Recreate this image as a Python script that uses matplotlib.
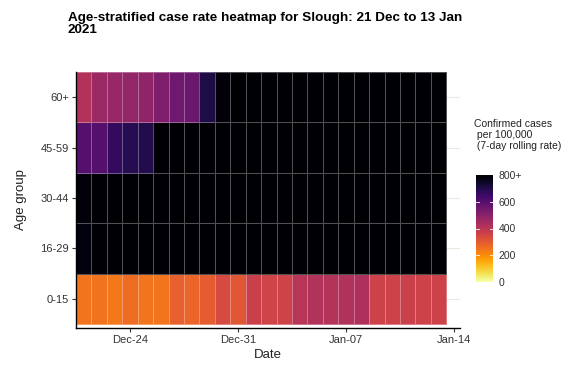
import numpy as np
import matplotlib
matplotlib.use("Agg")
import matplotlib.pyplot as plt
import matplotlib.dates as mdates
import datetime as dt

plt.rcParams['font.family'] = ['Liberation Sans', 'DejaVu Sans']

# ---- data ----
start_date = "2020-12-21"
n_days = 24
age_groups = ["0-15", "16-29", "30-44", "45-59", "60+"]
rate_0_15 = [245, 248, 238, 262, 246, 246, 285, 278, 295, 340, 308, 368,
             356, 358, 408, 420, 415, 420, 425, 362, 362, 368, 362, 362]
rate_16_29 = [780] + [800] * 23
rate_30_44 = [785] + [800] * 23
rate_45_59 = [600, 600, 664, 688, 696] + [800] * 19
rate_60p = [416, 464, 472, 480, 488, 520, 552, 560, 704, 785] + [800] * 14
cbar_ticks = [0, 200, 400, 600, 800]
cbar_labels = ["0", "200", "400", "600", "800+"]
xtick_dates = ["2020-12-24", "2020-12-31", "2021-01-07", "2021-01-14"]
xtick_labels = ["Dec-24", "Dec-31", "Jan-07", "Jan-14"]

values = np.array([rate_0_15, rate_16_29, rate_30_44, rate_45_59, rate_60p], dtype=float)

d0 = mdates.date2num(dt.datetime.fromisoformat(start_date))
x_edges = d0 - 0.5 + np.arange(n_days + 1)
y_edges = np.arange(len(age_groups) + 1) - 0.5

fig = plt.figure(figsize=(5.81, 3.72), dpi=100)
ax = fig.add_axes([76/581, 1-328/372, (460-76)/581, (328-72)/372])

# gridlines at category centres
for i in range(len(age_groups)):
    ax.axhline(i, color='#e9e9df', lw=0.8, zorder=0)

mesh = ax.pcolormesh(x_edges, y_edges, values, cmap='inferno_r', vmin=0, vmax=800,
                     edgecolors=(1, 1, 1, 0.32), linewidth=0.55, zorder=1)

ax.set_xlim(d0 - 0.5, d0 - 0.5 + 24.89)
ax.set_ylim(-0.58, len(age_groups) - 0.5)
ax.set_yticks(range(len(age_groups)))
ax.set_yticklabels(age_groups)
ax.set_xticks([mdates.date2num(dt.datetime.fromisoformat(d)) for d in xtick_dates])
ax.set_xticklabels(xtick_labels)
ax.tick_params(axis='both', labelsize=8, labelcolor='#333333', length=3, width=0.8, color='#333333', pad=2)
for s in ['top', 'right']:
    ax.spines[s].set_visible(False)
for s in ['left', 'bottom']:
    ax.spines[s].set_linewidth(1.0)
    ax.spines[s].set_color('black')

ax.set_xlabel("Date", fontsize=9.5, color='#222222', labelpad=3)
ax.set_ylabel("Age group", fontsize=9.5, color='#222222', labelpad=10)

fig.text(68/581, 1-12/372, "Age-stratified case rate heatmap for Slough: 21 Dec to 13 Jan\n2021",
         fontsize=9.7, fontweight='bold', ha='left', va='top', linespacing=1.0)

# colorbar
cax = fig.add_axes([476/581, 1-282/372, 17/581, 107/372])
cb = fig.colorbar(mesh, cax=cax, ticks=cbar_ticks)
cb.outline.set_visible(False)
cb.set_ticklabels(cbar_labels)
cax.tick_params(labelsize=7.5, labelcolor='#333333', length=0, pad=4)
for t in [200, 400, 600]:
    cax.axhline(t, xmin=0, xmax=0.2, color='white', lw=0.6)
    cax.axhline(t, xmin=0.8, xmax=1, color='white', lw=0.6)
fig.text(474/581, 1-119/372, "Confirmed cases\n per 100,000\n (7-day rolling rate)",
         fontsize=7.5, ha='left', va='top', color='#222222', linespacing=1.15)

fig.savefig("out.png", dpi=100)
